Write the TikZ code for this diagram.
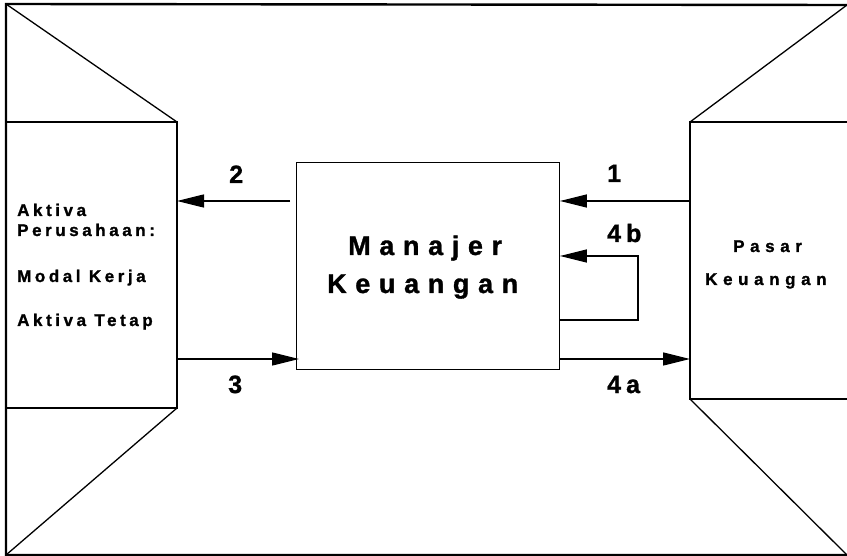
\documentclass[tikz,border=0pt]{standalone}
\usepackage{fontspec}
\setmainfont{Liberation Sans}
\usetikzlibrary{arrows.meta}
\tikzset{
  frame/.style={line width=2.4pt},
  edge/.style={line width=1.8pt},
  slant/.style={line width=1.3pt},
  mgrbox/.style={draw, line width=0.9pt, inner sep=0pt, minimum width=263pt, minimum height=207pt, anchor=north west},
  flow/.style={line width=1.3pt, -{Triangle[length=27pt,width=13pt]}},
  lbl/.style={font=\bfseries\fontsize{25}{27}\selectfont\addfontfeature{LetterSpace=20,FakeBold=1.2}, inner sep=0pt, anchor=base west},
  bigtxt/.style={font=\bfseries\fontsize{27}{30}\selectfont\addfontfeature{LetterSpace=32,FakeBold=1.2}, inner sep=0pt, anchor=base west},
  sidetxt/.style={font=\bfseries\fontsize{17}{19}\selectfont\addfontfeature{LetterSpace=21,FakeBold=1.2}, inner sep=0pt, anchor=base west},
  mkttxt/.style={font=\bfseries\fontsize{17}{19}\selectfont\addfontfeature{LetterSpace=33,FakeBold=1.2}, inner sep=0pt, anchor=base west},
}
\begin{document}
\begin{tikzpicture}[x=1pt,y=-1pt]
\useasboundingbox (0,0) rectangle (847,556);

% outer frame corners
\coordinate (tl) at (6,4);
\coordinate (tr) at (847,5);
\coordinate (bl) at (6,555);
\coordinate (br) at (847,555);

% left block (company assets)
\coordinate (la) at (177,122);
\coordinate (lb) at (177,408);
\coordinate (lat) at (6,122);
\coordinate (lbt) at (6,408);

% right block (financial market)
\coordinate (ra) at (690,122);
\coordinate (rb) at (690,399);
\coordinate (rae) at (847,122);
\coordinate (rbe) at (847,399);

% frame
\draw[frame] (tr) -- (tl) -- (bl) -- (br);

% left block and its perspective lines
\draw[edge] (lat) -- (la) -- (lb) -- (lbt);
\draw[slant] (tl) -- (la);
\draw[slant] (bl) -- (lb);

% right block and its perspective lines
\draw[edge] (rae) -- (ra) -- (rb) -- (rbe);
\draw[slant] (tr) -- (ra);
\draw[slant] (br) -- (rb);

% central box
\node[mgrbox] (mgr) at (296,162) {};
\node[bigtxt] (t1) at (348,255) {Manajer};
\node[bigtxt] (t2) at (327,293) {Keuangan};

% side texts
\node[sidetxt] (s1) at (17,216) {Aktiva};
\node[sidetxt] (s2) at (17,236) {Perusahaan:};
\node[sidetxt] (s3) at (17,282) {Modal Kerja};
\node[sidetxt] (s4) at (17,326) {Aktiva Tetap};

\node[mkttxt] (m1) at (733,252) {Pasar};
\node[mkttxt] (m2) at (705,285) {Keuangan};

% flows
\coordinate (y1) at (0,201);
\coordinate (y3) at (0,359);
\coordinate (loopTop) at (638,256);
\coordinate (loopBot) at (638,320);

\draw[flow] (ra |- y1) -- (mgr.east |- y1);
\draw[flow] ([xshift=-6pt]mgr.west |- y1) -- (la |- y1);
\draw[flow] (la |- y3) -- ([xshift=3pt]mgr.west |- y3);
\draw[flow] (mgr.east |- y3) -- (ra |- y3);
\draw[flow] (mgr.east |- loopBot) -- (loopBot) -- (loopTop) -- (mgr.east |- loopTop);

% flow labels
\node[lbl] (n1) at (607,182) {1};
\node[lbl] (n2) at (229,183) {2};
\node[lbl] (n3) at (228,393) {3};
\node[lbl] (n4b) at (607,242) {4b};
\node[lbl] (n4a) at (607,393) {4a};
\end{tikzpicture}
\end{document}
